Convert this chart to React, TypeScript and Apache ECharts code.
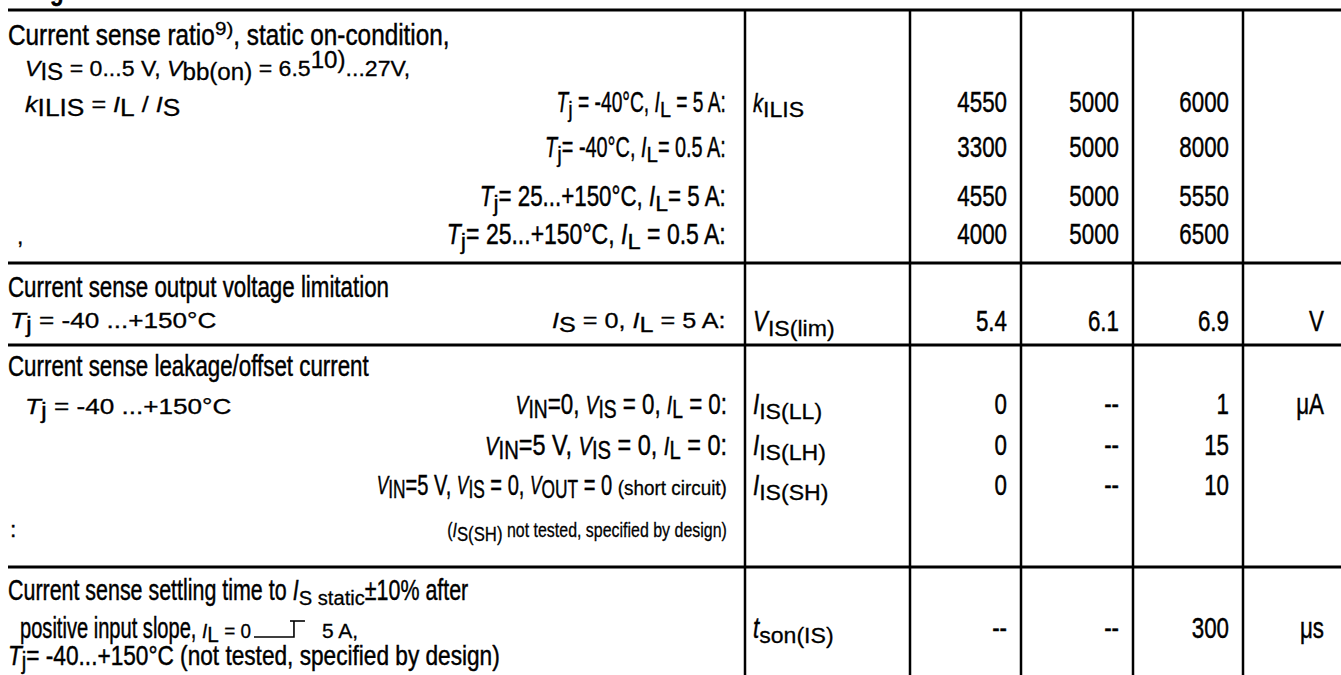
import React, { useEffect, useRef } from "react";
import * as echarts from "echarts";

// ---------- data ----------
const minVals = ["4550", "3300", "4550", "4000", "5.4", "0", "0", "0", "--"];
const typVals = ["5000", "5000", "5000", "5000", "6.1", "--", "--", "--", "--"];
const maxVals = ["6000", "8000", "5550", "6500", "6.9", "1", "15", "10", "300"];
const units = ["", "", "", "", "V", "μA", "", "", "μs"];
const symMain = ["k", "", "", "", "V", "I", "I", "I", "t"];
const symSub = ["ILIS", "", "", "", "IS(lim)", "IS(LL)", "IS(LH)", "IS(SH)", "son(IS)"];

const titles = [
  "Current sense ratio",
  "Current sense output voltage limitation",
  "Current sense leakage/offset current",
  "Current sense settling time to ",
];

// ---------- layout ----------
const FONT = '"Liberation Sans", Arial, Helvetica, sans-serif';
const BIG = 29;
const SMALL = 22;
const TINY = 20;
const SUB = 22;

const W = 1341;
const H = 675;
const hLines = [10, 263, 345, 567];
const vLines = [745, 910, 1021, 1133, 1243];
const valueBase = [112, 157, 206, 244, 331, 414, 455, 495, 638];

type Seg = { t: string; f: number; it?: boolean; dy?: number; b?: boolean };
const n = (t: string, f = BIG): Seg => ({ t, f });
const it = (t: string, f = BIG): Seg => ({ t, f, it: true });
const sb = (t: string, f = SUB, dy = 5): Seg => ({ t, f, dy });
const sp = (t: string, f = 17, dy = -10): Seg => ({ t, f, dy });

const baseSX = (f: number) => (f >= 24 ? 0.77 : 1.05);

function buildElements() {
  const els: any[] = [];
  const canvas = document.createElement("canvas");
  const ctx = canvas.getContext("2d")!;
  const fontStr = (s: Seg) =>
    `${s.it ? "italic " : ""}${s.b ? "bold " : ""}${s.f}px ${FONT}`;
  const w = (s: Seg, k: number, t = s.t) => {
    ctx.font = fontStr(s);
    return ctx.measureText(t).width * baseSX(s.f) * k;
  };
  const lineW = (segs: Seg[], k: number) => segs.reduce((a, s) => a + w(s, k), 0);
  function put(segs: Seg[], x: number, base: number, align = "left", k = 1) {
    let cx = align === "right" ? x - lineW(segs, k) : x;
    for (const s of segs) {
      const lead = (s.t.match(/^ */) || [""])[0];
      const txt = s.t.trim();
      if (txt.length) {
        els.push({
          type: "text",
          x: cx + (lead.length ? w(s, k, lead) : 0),
          y: base + (s.dy || 0) - 0.3465 * s.f,
          scaleX: baseSX(s.f) * k,
          silent: true,
          style: {
            text: txt,
            font: fontStr(s),
            fill: "#000",
            stroke: "#000",
            lineWidth: s.f >= 24 ? 0.45 : 0.3,
            align: "left",
            verticalAlign: "middle",
            textAlign: "left",
            textVerticalAlign: "middle",
          },
        });
      }
      cx += w(s, k);
    }
    return cx;
  }

  // grid lines
  hLines.forEach((y) =>
    els.push({ type: "line", silent: true, shape: { x1: 8, y1: y, x2: W, y2: y }, style: { stroke: "#000", lineWidth: 3 } })
  );
  vLines.forEach((x) =>
    els.push({ type: "line", silent: true, shape: { x1: x, y1: hLines[0], x2: x, y2: H }, style: { stroke: "#000", lineWidth: 2.5 } })
  );

  // header remnant
  put([{ t: "g", f: BIG, b: true }], 50, 0);

  const RX = 727; // right edge for conditions
  // Row 1
  put([n(titles[0]), sp("9)", 18), n(", static on-condition,")], 8, 45, "left", 1.09);
  put([it("V", SMALL), sb("IS", SUB + 1, 4), n(" = 0...5 V, ", SMALL), it("V", SMALL), sb("bb(on)", SUB + 1, 4), n(" = 6.5", SMALL), sp("10)", 23, -8), n("...27V,", SMALL)], 25, 76, "left", 1.0);
  put([it("k", SMALL), sb("ILIS", SUB + 1, 4), n(" = ", SMALL), it("I", SMALL), sb("L", SUB + 1, 4), n(" / ", SMALL), it("I", SMALL), sb("S", SUB + 1, 4)], 25, 112, "left", 1.09);
  put([it("T"), sb("j"), n(" = -40°C, "), it("I"), sb("L"), n(" = 5 A:")], RX, 112, "right", 0.86);
  put([it("T"), sb("j"), n("= -40°C, "), it("I"), sb("L"), n("= 0.5 A:")], RX, 157, "right", 0.89);
  put([it("T"), sb("j"), n("= 25...+150°C, "), it("I"), sb("L"), n("= 5 A:")], RX, 206, "right");
  put([n(",", SMALL)], 17, 244);
  put([it("T"), sb("j"), n("= 25...+150°C, "), it("I"), sb("L"), n(" = 0.5 A:")], RX, 244, "right", 1.03);

  // Row 2
  put([n(titles[1])], 8, 297);
  put([it("T", SMALL), sb("j", SUB, 4), n(" = -40 ...+150°C", SMALL)], 10, 328, "left", 1.13);
  put([it("I", SMALL), sb("S", SUB, 4), n(" = 0, ", SMALL), it("I", SMALL), sb("L", SUB, 4), n(" = 5 A:", SMALL)], RX, 328, "right", 1.09);

  // Row 3
  put([n(titles[2])], 8, 376);
  put([it("T", SMALL), sb("j", SUB, 4), n(" = -40 ...+150°C", SMALL)], 25, 414, "left", 1.13);
  const VS = 25, SS = 25;
  put([it("V", VS), sb("IN", SS, 4), n("=0, "), it("V", VS), sb("IS", SS, 4), n(" = 0, "), it("I", VS), sb("L", SS, 4), n(" = 0:")], RX, 414, "right");
  put([it("V", VS), sb("IN", SS, 4), n("=5 V, "), it("V", VS), sb("IS", SS, 4), n(" = 0, "), it("I", VS), sb("L", SS, 4), n(" = 0:")], RX, 455, "right", 1.05);
  put([it("V", VS), sb("IN", SS, 4), n("=5 V, "), it("V", VS), sb("IS", SS, 4), n(" = 0, "), it("V", VS), sb("OUT", SS, 4), n(" = 0 "), n("(short circuit)", TINY)], RX, 495, "right", 0.9);
  put([n(":", SMALL)], 10, 537);
  put([n("(", TINY), it("I", TINY), sb("S(SH)", TINY + 1, 4), n(" not tested, specified by design)", TINY)], RX, 537, "right", 0.76);

  // Row 4
  put([n(titles[3]), it("I"), sb("S static", TINY, 5), n("±10% after")], 8, 600, "left", 0.96);
  const xe = put([n("positive input slope, "), it("I", TINY), sb("L", SUB, 4), n(" = 0", TINY)], 20, 638, "left", 0.9);
  const b = 637;
  els.push({ type: "polyline", silent: true, shape: { points: [[xe + 3, b], [xe + 43, b], [xe + 43, b - 16]] }, style: { stroke: "#000", lineWidth: 1.6, fill: null } });
  els.push({ type: "line", silent: true, shape: { x1: xe + 39, y1: b - 16, x2: xe + 54, y2: b - 16 }, style: { stroke: "#000", lineWidth: 1.6 } });
  put([n("5 A,", TINY)], xe + 71, 638);
  put([it("T", 27), sb("j", 24, 4), n("= -40...+150°C (not tested, specified by design)", 27)], 8, 665, "left", 1.09);

  // value columns
  for (let i = 0; i < valueBase.length; i++) {
    const y = valueBase[i];
    if (symMain[i]) {
      put([it(symMain[i], symMain[i] === "k" ? 26 : BIG), sb(symSub[i], SUB, 5)], vLines[0] + 8, y);
    }
    put([n(minVals[i])], vLines[2] - 14, y, "right");
    put([n(typVals[i])], vLines[3] - 14, y, "right");
    put([n(maxVals[i])], vLines[4] - 14, y, "right");
    if (units[i]) put([n(units[i])], 1324, y, "right");
  }
  return els;
}

export default function App() {
  const ref = useRef<HTMLDivElement>(null);
  useEffect(() => {
    document.body.style.margin = "0";
    document.body.style.overflow = "hidden";
    const chart = echarts.init(ref.current!, undefined, { renderer: "svg" });
    chart.setOption({
      animation: false,
      backgroundColor: "#fff",
      graphic: { elements: buildElements() },
    });
    return () => chart.dispose();
  }, []);
  return <div ref={ref} style={{ position: "fixed", left: 0, top: 0, width: W, height: H, background: "#fff" }} />;
}
